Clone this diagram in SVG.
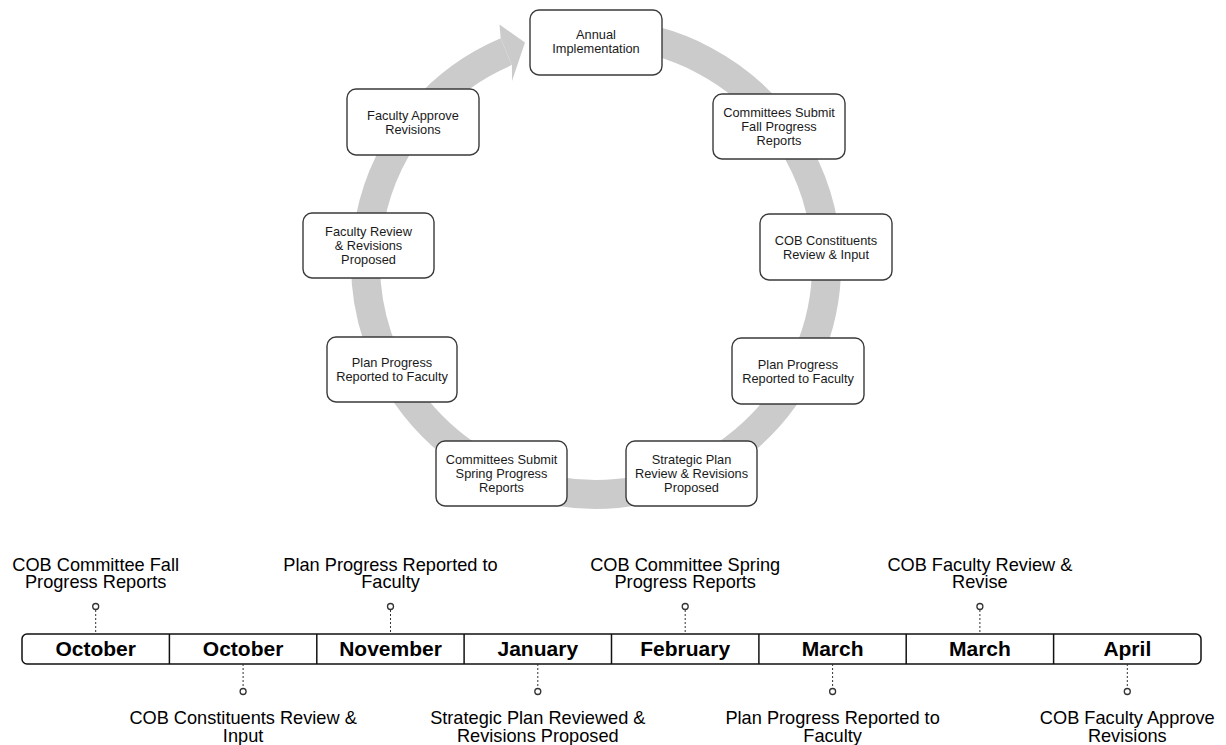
<svg xmlns="http://www.w3.org/2000/svg" width="1226" height="745" viewBox="0 0 1226 745">
<style>
.ring{fill:none;stroke:#cbcbcb;stroke-width:29}
.head{fill:#cbcbcb;stroke:none}
.box{fill:#fff;stroke:#3a3a3a;stroke-width:1.4}
.nt{font-family:"Liberation Sans",Arial,sans-serif;font-size:12.8px;fill:#1a1a1a;text-anchor:middle}
.bar{fill:#fff;stroke:#111;stroke-width:1.5}
.div{stroke:#111;stroke-width:1.5}
.mon{font-family:"Liberation Sans",Arial,sans-serif;font-size:21px;font-weight:bold;fill:#000;text-anchor:middle}
.lbl{font-family:"Liberation Sans",Arial,sans-serif;font-size:18.2px;fill:#000;text-anchor:middle}
.dash{stroke:#333;stroke-width:1;stroke-dasharray:2 2}
.pin{fill:#fff;stroke:#333;stroke-width:1.3}
</style>
<g id="connectors">
<path class="ring" d="M 604.0 33.6 A 230.5 230.5 0 1 1 506.3 51.7"/>
<polygon class="head" points="499.5,24.5 525,42.5 512,81 511.9,65.1 500.7,38.3"/>
</g>
<g id="n1"><rect class="box" x="530" y="10" width="132" height="65" rx="9"/>
<text class="nt" x="596" y="39">Annual<tspan x="596" dy="14">Implementation</tspan></text></g>
<g id="n2"><rect class="box" x="713" y="94" width="132" height="65" rx="9"/>
<text class="nt" x="779" y="117">Committees Submit<tspan x="779" dy="14">Fall Progress</tspan><tspan x="779" dy="14">Reports</tspan></text></g>
<g id="n3"><rect class="box" x="760" y="214" width="132" height="66" rx="9"/>
<text class="nt" x="826" y="244.5">COB Constituents<tspan x="826" dy="14">Review &amp; Input</tspan></text></g>
<g id="n4"><rect class="box" x="732" y="338" width="132" height="66" rx="9"/>
<text class="nt" x="798" y="368.5">Plan Progress<tspan x="798" dy="14">Reported to Faculty</tspan></text></g>
<g id="n5"><rect class="box" x="626" y="441" width="131" height="65" rx="9"/>
<text class="nt" x="691.5" y="464">Strategic Plan<tspan x="691.5" dy="14">Review &amp; Revisions</tspan><tspan x="691.5" dy="14">Proposed</tspan></text></g>
<g id="n6"><rect class="box" x="436" y="441" width="131" height="65" rx="9"/>
<text class="nt" x="501.5" y="464">Committees Submit<tspan x="501.5" dy="14">Spring Progress</tspan><tspan x="501.5" dy="14">Reports</tspan></text></g>
<g id="n7"><rect class="box" x="327" y="337" width="130" height="65" rx="9"/>
<text class="nt" x="392" y="367">Plan Progress<tspan x="392" dy="14">Reported to Faculty</tspan></text></g>
<g id="n8"><rect class="box" x="303" y="213" width="131" height="65" rx="9"/>
<text class="nt" x="368.5" y="236">Faculty Review<tspan x="368.5" dy="14">&amp; Revisions</tspan><tspan x="368.5" dy="14">Proposed</tspan></text></g>
<g id="n9"><rect class="box" x="347" y="89" width="132" height="66" rx="9"/>
<text class="nt" x="413" y="120">Faculty Approve<tspan x="413" dy="14">Revisions</tspan></text></g>
<g id="timeline">
<rect class="bar" x="22" y="634" width="1179" height="30" rx="5"/>
<line class="div" x1="169.4" y1="634" x2="169.4" y2="664"/>
<line class="div" x1="316.8" y1="634" x2="316.8" y2="664"/>
<line class="div" x1="464.1" y1="634" x2="464.1" y2="664"/>
<line class="div" x1="611.5" y1="634" x2="611.5" y2="664"/>
<line class="div" x1="758.9" y1="634" x2="758.9" y2="664"/>
<line class="div" x1="906.2" y1="634" x2="906.2" y2="664"/>
<line class="div" x1="1053.6" y1="634" x2="1053.6" y2="664"/>
<text class="mon" x="95.7" y="656">October</text>
<text class="mon" x="243.1" y="656">October</text>
<text class="mon" x="390.5" y="656">November</text>
<text class="mon" x="537.8" y="656">January</text>
<text class="mon" x="685.2" y="656">February</text>
<text class="mon" x="832.6" y="656">March</text>
<text class="mon" x="979.9" y="656">March</text>
<text class="mon" x="1127.3" y="656">April</text>
</g>
<g id="pins">
<line class="dash" x1="95.7" y1="610" x2="95.7" y2="634"/><circle class="pin" cx="95.7" cy="606.5" r="3"/>
<line class="dash" x1="390.5" y1="610" x2="390.5" y2="634"/><circle class="pin" cx="390.5" cy="606.5" r="3"/>
<line class="dash" x1="685.2" y1="610" x2="685.2" y2="634"/><circle class="pin" cx="685.2" cy="606.5" r="3"/>
<line class="dash" x1="979.9" y1="610" x2="979.9" y2="634"/><circle class="pin" cx="979.9" cy="606.5" r="3"/>
<line class="dash" x1="243.1" y1="664" x2="243.1" y2="688"/><circle class="pin" cx="243.1" cy="691.5" r="3"/>
<line class="dash" x1="537.8" y1="664" x2="537.8" y2="688"/><circle class="pin" cx="537.8" cy="691.5" r="3"/>
<line class="dash" x1="832.6" y1="664" x2="832.6" y2="688"/><circle class="pin" cx="832.6" cy="691.5" r="3"/>
<line class="dash" x1="1127.3" y1="664" x2="1127.3" y2="688"/><circle class="pin" cx="1127.3" cy="691.5" r="3"/>
</g>
<g id="labels">
<text class="lbl" x="95.7" y="570.5">COB Committee Fall<tspan x="95.7" dy="17.7">Progress Reports</tspan></text>
<text class="lbl" x="390.5" y="570.5">Plan Progress Reported to<tspan x="390.5" dy="17.7">Faculty</tspan></text>
<text class="lbl" x="685.2" y="570.5">COB Committee Spring<tspan x="685.2" dy="17.7">Progress Reports</tspan></text>
<text class="lbl" x="979.9" y="570.5">COB Faculty Review &amp;<tspan x="979.9" dy="17.7">Revise</tspan></text>
<text class="lbl" x="243.1" y="724.3">COB Constituents Review &amp;<tspan x="243.1" dy="17.7">Input</tspan></text>
<text class="lbl" x="537.8" y="724.3">Strategic Plan Reviewed &amp;<tspan x="537.8" dy="17.7">Revisions Proposed</tspan></text>
<text class="lbl" x="832.6" y="724.3">Plan Progress Reported to<tspan x="832.6" dy="17.7">Faculty</tspan></text>
<text class="lbl" x="1127.3" y="724.3">COB Faculty Approve<tspan x="1127.3" dy="17.7">Revisions</tspan></text>
</g>
</svg>
